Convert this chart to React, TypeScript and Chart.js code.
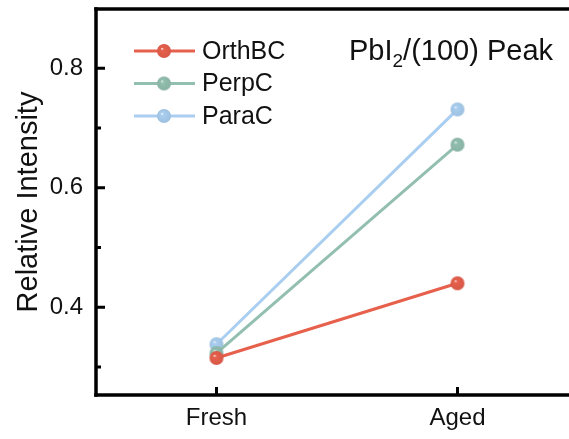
import { useEffect, useRef } from 'react';
import { Chart, registerables } from 'chart.js';
Chart.register(...registerables);

const categories = ['Fresh', 'Aged'];
const seriesNames = ['OrthBC', 'PerpC', 'ParaC'];
const orthBC = [0.315, 0.44];
const perpC = [0.323, 0.672];
const paraC = [0.338, 0.731];
const seriesColors = ['#E6604C', '#92BFAF', '#A9CEF0'];
const majorYTicks = [0.4, 0.6, 0.8];
const minorYTicks = [0.3, 0.5, 0.7];
const yMin = 0.253;
const yMax = 0.899;
const yTitle = 'Relative Intensity';

const FONT = '"Liberation Sans", Arial, sans-serif';

function shade(hex: string, f: number) {
  const n = parseInt(hex.slice(1), 16);
  let r = (n >> 16) & 255, g = (n >> 8) & 255, b = n & 255;
  r = Math.round(r * f); g = Math.round(g * f); b = Math.round(b * f);
  return `rgb(${Math.min(255, r)},${Math.min(255, g)},${Math.min(255, b)})`;
}

function sphere(color: string, r: number) {
  const c = document.createElement('canvas');
  const s = Math.ceil(r * 2 + 2);
  c.width = s; c.height = s;
  const ctx = c.getContext('2d')!;
  const cx = s / 2, cy = s / 2;
  const g = ctx.createRadialGradient(cx - r * 0.3, cy - r * 0.35, 0, cx, cy, r);
  g.addColorStop(0, 'rgba(255,255,255,1)');
  g.addColorStop(0.22, color);
  g.addColorStop(1, shade(color, 0.93));
  ctx.fillStyle = g;
  ctx.beginPath();
  ctx.arc(cx, cy, r, 0, Math.PI * 2);
  ctx.fill();
  return c;
}

const zeroPad = (s: any) => {
  s.paddingTop = 0; s.paddingBottom = 0; s.paddingLeft = 0; s.paddingRight = 0;
};

export default function App() {
  const ref = useRef<HTMLCanvasElement>(null);
  useEffect(() => {
    if (!ref.current) return;
    const spheres = seriesColors.map((c) => sphere(c, 7));
    const series = [orthBC, perpC, paraC];
    const decor = {
      id: 'decor',
      afterDraw(chart: any) {
        const { ctx, chartArea } = chart;
        const { left, right, top, bottom } = chartArea;
        const ys = chart.scales.y;
        const xs = chart.scales.x;
        ctx.save();
        ctx.strokeStyle = '#000';
        ctx.lineWidth = 3.5;
        ctx.beginPath();
        ctx.moveTo(left, top - 1.75); ctx.lineTo(left, bottom + 1.75);
        ctx.stroke();
        ctx.beginPath();
        ctx.moveTo(left - 1.75, bottom); ctx.lineTo(right + 4, bottom);
        ctx.stroke();
        ctx.beginPath();
        ctx.moveTo(left - 1.75, top); ctx.lineTo(right + 4, top);
        ctx.stroke();
        ctx.lineWidth = 3;
        ctx.beginPath();
        majorYTicks.forEach((v) => {
          const p = ys.getPixelForValue(v);
          ctx.moveTo(left, p); ctx.lineTo(left + 9, p);
        });
        minorYTicks.forEach((v) => {
          const p = ys.getPixelForValue(v);
          ctx.moveTo(left, p); ctx.lineTo(left + 5, p);
        });
        categories.forEach((_, i) => {
          const p = xs.getPixelForValue(i);
          ctx.moveTo(p, bottom); ctx.lineTo(p, bottom - 8);
        });
        ctx.stroke();
        // legend
        seriesNames.forEach((name, i) => {
          const y = 51 + i * 32.5;
          ctx.strokeStyle = seriesColors[i];
          ctx.lineWidth = 3;
          ctx.beginPath();
          ctx.moveTo(134, y); ctx.lineTo(195, y);
          ctx.stroke();
          const s = spheres[i];
          ctx.drawImage(s, 164 - s.width / 2, y - s.height / 2);
          ctx.fillStyle = '#111';
          ctx.font = `25px ${FONT}`;
          ctx.textBaseline = 'middle';
          ctx.textAlign = 'left';
          ctx.fillText(name, 202, y + 1);
        });
        // title
        ctx.fillStyle = '#111';
        ctx.textBaseline = 'alphabetic';
        ctx.font = `29px ${FONT}`;
        let x = 349;
        ctx.fillText('PbI', x, 60);
        x += ctx.measureText('PbI').width;
        ctx.font = `19px ${FONT}`;
        ctx.fillText('2', x, 67);
        x += ctx.measureText('2').width;
        ctx.font = `29px ${FONT}`;
        ctx.fillText('/(100) Peak', x, 60);
        ctx.restore();
      },
    };
    const chart = new Chart(ref.current, {
      type: 'line',
      data: {
        labels: categories,
        datasets: series.map((d, i) => ({
          label: seriesNames[i],
          data: d,
          borderColor: seriesColors[i],
          backgroundColor: seriesColors[i],
          borderWidth: 3,
          pointStyle: spheres[i] as any,
          pointRadius: 7,
          tension: 0,
        })),
      },
      options: {
        animation: false,
        responsive: false,
        events: [],
        layout: { autoPadding: false, padding: { top: 9, right: 0, left: 0, bottom: 0 } },
        plugins: { legend: { display: false }, tooltip: { enabled: false } },
        scales: {
          x: {
            type: 'category',
            offset: true,
            grid: { display: false, drawTicks: false },
            border: { display: false },
            ticks: { color: '#111', font: { size: 24, family: FONT }, padding: 9 },
            afterFit: (s: any) => { s.height = 44; zeroPad(s); },
          },
          y: {
            type: 'linear',
            min: yMin,
            max: yMax,
            grid: { display: false, drawTicks: false },
            border: { display: false },
            ticks: {
              stepSize: 0.1,
              includeBounds: false,
              color: '#111',
              font: { size: 24, family: FONT },
              padding: 13,
              callback: (v: any) => {
                const r = Math.round(Number(v) * 10);
                return r % 2 === 0 ? (r / 10).toFixed(1) : '';
              },
            },
            title: {
              display: true,
              text: yTitle,
              color: '#111',
              font: { size: 29, family: FONT },
              padding: { top: 12, bottom: 0 },
            },
            afterFit: (s: any) => { s.width = 96; zeroPad(s); },
          },
        },
      },
      plugins: [decor],
    });
    return () => chart.destroy();
  }, []);
  return (
    <div style={{ position: 'absolute', left: 0, top: 0, width: 569, height: 439, overflow: 'hidden', background: '#fff' }}>
      <canvas ref={ref} width={578} height={439} style={{ display: 'block', width: 578, height: 439 }} />
    </div>
  );
}
